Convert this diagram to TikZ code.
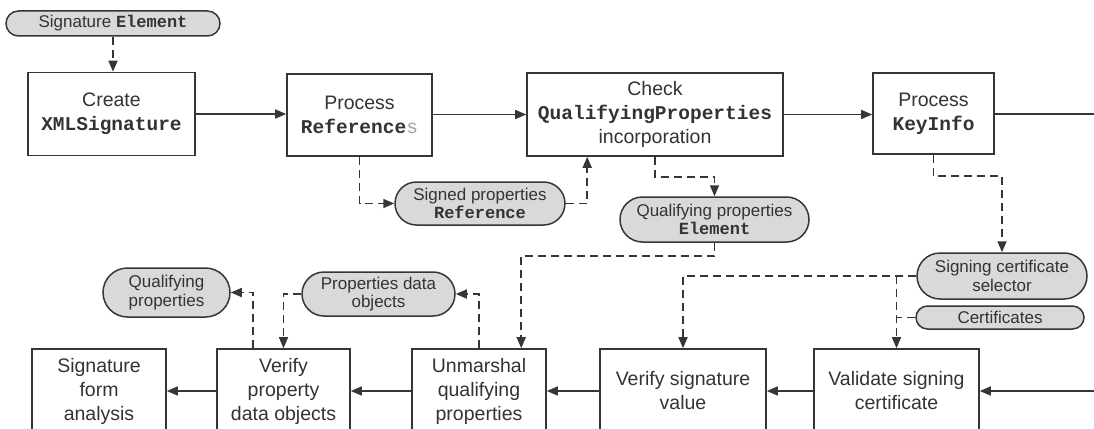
\documentclass[tikz,border=0pt]{standalone}
\usepackage{fontspec}
\setmainfont{Liberation Sans}
\setmonofont{Liberation Mono}
\usetikzlibrary{arrows.meta,shapes.misc,calc}
\definecolor{ln}{HTML}{363636}
\definecolor{tx}{HTML}{333333}
\definecolor{pf}{HTML}{D9D9D9}
\newcommand\cd[1]{{\ttfamily\bfseries #1}}
\begin{document}
\begin{tikzpicture}[x=1pt,y=-1pt,
 box/.style={draw=ln, line width=1.6pt, fill=white, rectangle, inner sep=0pt, align=center, text=tx, font=\fontsize{19.5}{24}\selectfont},
 pill/.style={draw=ln, line width=1.5pt, fill=pf, rounded rectangle, inner sep=0pt, align=center, text=tx, font=\fontsize{17}{18.5}\selectfont},
 flow/.style={draw=ln, line width=1.6pt, -{Triangle[length=11pt,width=9pt]}},
 dep/.style={draw=ln, line width=1.6pt, dash pattern=on 8pt off 5pt, -{Triangle[length=11pt,width=9pt]}},
 depn/.style={draw=ln, line width=1.6pt, dash pattern=on 8pt off 5pt},
 plain/.style={draw=ln, line width=1.6pt}]
\useasboundingbox (0,0) rectangle (1094,428);
% top row boxes
\node[box, minimum width=167pt, minimum height=83pt] (create) at (111.5,114) {Create\\\cd{XMLSignature}};
\node[box, minimum width=145pt, minimum height=82pt] (procref) at (359.5,115) {Process\\\cd{Reference}{\ttfamily\color{tx!45}s}};
\node[box, minimum width=256pt, minimum height=83pt] (check) at (655,114.5) {Check\\\cd{QualifyingProperties}\\incorporation};
\node[box, minimum width=121pt, minimum height=81pt] (keyinfo) at (933.5,113.5) {Process\\\cd{KeyInfo}};
% bottom row boxes
\node[box, minimum width=134pt, minimum height=84pt] (sfa) at (99,391) {Signature\\form\\analysis};
\node[box, minimum width=133pt, minimum height=84pt] (vpdo) at (283.5,391) {Verify\\property\\data objects};
\node[box, minimum width=134pt, minimum height=84pt] (unm) at (479,391) {Unmarshal\\qualifying\\properties};
\node[box, minimum width=166pt, minimum height=84pt] (vsv) at (683,391) {Verify signature\\value};
\node[box, minimum width=165pt, minimum height=84pt] (vsc) at (896.5,391) {Validate signing\\certificate};
% pills
\node[pill, minimum width=214pt, minimum height=25pt] (sigel) at (113,23.5) {Signature \cd{Element}};
\node[pill, minimum width=170pt, minimum height=43pt] (spref) at (480,203.5) {Signed properties\\\cd{Reference}};
\node[pill, minimum width=189pt, minimum height=45pt] (qpel) at (714.5,219.5) {Qualifying properties\\\cd{Element}};
\node[pill, minimum width=170pt, minimum height=46pt] (scs) at (1002,276) {Signing certificate\\selector};
\node[pill, minimum width=168pt, minimum height=23pt] (certs) at (1000,317.5) {Certificates};
\node[pill, minimum width=127pt, minimum height=49pt] (qp) at (166.5,292.5) {Qualifying\\properties};
\node[pill, minimum width=153pt, minimum height=44pt] (pdo) at (378.5,294) {Properties data\\objects};
% edge coordinates
\coordinate (edgeA) at (1094,114);
\coordinate (edgeB) at (1094,391);
% main flow
\draw[dep] (sigel.south) -- (sigel.south |- create.north);
\draw[flow] (create.east) -- (create.east -| procref.west);
\draw[flow] (procref.east |- check.west) -- (check.west);
\draw[flow] (check.east) -- (check.east -| keyinfo.west);
\draw[plain] (keyinfo.east |- edgeA) -- (edgeA);
\draw[flow] (edgeB) -- (vsc.east);
\draw[flow] (vsc.west) -- (vsv.east);
\draw[flow] (vsv.west) -- (unm.east);
\draw[flow] (unm.west) -- (vpdo.east);
\draw[flow] (vpdo.west) -- (sfa.east);
% dashed dependencies
\draw[dep] (procref.south) |- (spref.west);
\draw[dep] (spref.east) -| ($(check.south west)+(61,0)$);
\draw[dep] (check.south) |- ($(qpel.north)+(0,-19)$) -- (qpel.north);
\draw[dep] (qpel.south) -- ++(0,13) -| ($(unm.north west)+(110,0)$);
\draw[dep] (keyinfo.south) |- ($(scs.north)+(0,-76)$) -- (scs.north);
\draw[dep] (scs.west) -| (vsv.north);
\draw[dep] (vsc.north |- scs.west) -- (vsc.north);
\draw[depn] (certs.west) -- (vsc.north |- certs.west);
\draw[dep] ($(vpdo.north west)+(37,0)$) |- (qp.east);
\draw[dep] (pdo.west) -| (vpdo.north);
\draw[dep] (unm.north) |- (pdo.east);
\end{tikzpicture}
\end{document}
